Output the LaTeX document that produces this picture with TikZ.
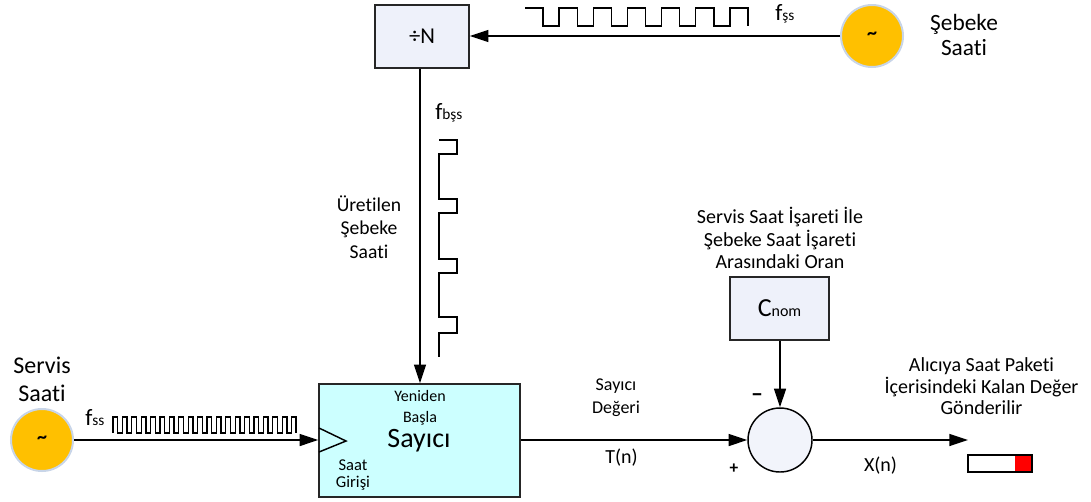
\documentclass[tikz,border=0pt]{standalone}
\usepackage{fontspec}
\setmainfont{Carlito}[Ligatures=NoCommon]
\usetikzlibrary{arrows.meta,calc}
\definecolor{boxfill}{RGB}{238,241,250}
\definecolor{cyanfill}{RGB}{204,255,255}
\definecolor{sumfill}{RGB}{242,244,251}
\definecolor{clkfill}{RGB}{255,192,0}
\definecolor{clkhalo}{RGB}{200,213,232}
\newcommand{\fsz}[2]{\fontsize{#1}{#2}\selectfont}
\newcommand{\lowsub}[1]{{\fontsize{11.5}{12}\selectfont #1}}
\begin{document}
\begin{tikzpicture}[x=0.75pt,y=-0.75pt]
\tikzset{
  conn/.style={line width=1.1pt,-{Triangle[length=14pt,width=9pt]}},
  wave/.style={line width=1pt,line join=miter},
  blockbox/.style={draw=black!85,line width=1.1pt,fill=boxfill,inner sep=0pt},
  clocksrc/.style={circle,fill=clkfill,draw=clkhalo,line width=1.5pt,minimum size=46.5pt,inner sep=0pt,font=\fsz{15}{15}\bfseries},
  lbl/.style={inner sep=0pt,align=center,text=black},
}
\useasboundingbox (0,0) rectangle (1091,501);

% blocks
\node[blockbox,minimum width=70.5pt,minimum height=47.25pt,font=\fsz{17}{20}] (divn) at (422,36.5) {÷N};
\node[blockbox,fill=cyanfill,minimum width=150.75pt,minimum height=84.75pt] (sayici) at (419.5,440.5) {};
\node[blockbox,minimum width=74.25pt,minimum height=47.25pt] (cnom) at (779.5,308.5) {\fsz{19.5}{22}C\lowsub{\fsz{12}{12}nom}};
\node[circle,draw=black,line width=1.1pt,fill=sumfill,minimum size=48pt,inner sep=0pt] (sum) at (780,440) {};
\node[clocksrc] (sebeke) at (872,36) {\raisebox{-0.45ex}{\textasciitilde}};
\node[clocksrc] (servis) at (42,440) {\raisebox{-0.45ex}{\textasciitilde}};
\node[draw=black,line width=1pt,fill=white,minimum width=48pt,minimum height=12.75pt,inner sep=0pt,
  path picture={\fill[red] ([xshift=-12.75pt]path picture bounding box.north east) rectangle (path picture bounding box.south east);}] (packet) at (1000,463.5) {};
\coordinate (outend) at (968,440);

% connectors
\draw[conn] (sebeke.west) -- (sebeke.west -| divn.east);
\draw[conn] (divn.south -| 420,0) -- (420,0 |- sayici.north);
\draw[conn] (servis.east) -- (servis.east -| sayici.west);
\draw[conn] (sayici.east |- sum.west) -- (sum.west);
\draw[conn] (cnom.south -| sum.north) -- (sum.north);
\draw[conn] (sum.east) -- (outend);

% clock input marker
\draw[line width=1.1pt,line join=miter] (319,428) -- (346,441) -- (319,452);

% waves
\draw[wave] (525,8) -- (543,8) -- (543,26)
  foreach \k in {0,...,5} { -- ({559+34.17*\k},26) -- ({559+34.17*\k},8) -- ({543+34.17*(\k+1)},8) -- ({543+34.17*(\k+1)},26) };
\draw[wave] (113,433) -- (113,417)
  foreach \k in {0,...,18} { -- ({117.7+9.4*\k},417) -- ({117.7+9.4*\k},433) -- ({122.4+9.4*\k},433) -- ({122.4+9.4*\k},417) } -- (296,417) -- (296,433);
\draw[wave] (439,140) -- (457,140) -- (457,154) -- (439,154) -- (439,199) -- (457,199) -- (457,213) -- (439,213)
  -- (439,259) -- (457,259) -- (457,273) -- (439,273) -- (439,317) -- (457,317) -- (457,333) -- (439,333) -- (439,357);

% labels
\node[lbl,anchor=base west,font=\fsz{17.5}{20}] (lfss) at (775,20) {f\lowsub{şs}};
\node[lbl,anchor=base west,font=\fsz{17.5}{20}] (lfbss) at (435,119) {f\lowsub{bşs}};
\node[lbl,anchor=base west,font=\fsz{17.5}{20}] (lfs) at (85,425) {f\lowsub{ss}};
\node[lbl,font=\fsz{17.5}{18.75}] (lsebeke) at (964,35) {Şebeke\\Saati};
\node[lbl,font=\fsz{18}{21}] (lservis) at (42,379) {Servis\\Saati};
\node[lbl,font=\fsz{14.7}{17.6}] (luret) at (369,227) {Üretilen\\Şebeke\\Saati};
\node[lbl,font=\fsz{12}{15.75}] (lreset) at (420,407.5) {Yeniden\\Başla};
\node[lbl,font=\fsz{21}{24}] (lsayici) at (419,441) {Sayıcı};
\node[lbl,font=\fsz{12.4}{12.75}] (lclk) at (353,475.5) {Saat\\Girişi};
\node[lbl,font=\fsz{13.5}{17.25}] (lsdeg) at (616,398) {Sayıcı\\Değeri};
\node[lbl,font=\fsz{15}{17}] (ltn) at (621.5,458) {T(n)};
\node[lbl,font=\fsz{18}{18}\bfseries] (lminus) at (757,398) {–};
\node[lbl,font=\fsz{13}{15}\bfseries] (lplus) at (734,469) {+};
\node[lbl,font=\fsz{15}{16.9}] (lratio) at (780,238) {Servis Saat İşareti İle\\Şebeke Saat İşareti\\Arasındaki Oran};
\node[lbl,font=\fsz{15}{17}] (lxn) at (880.5,466) {X(n)};
\node[lbl,font=\fsz{15}{16.1}] (lsend) at (981.5,386.5) {Alıcıya Saat Paketi\\İçerisindeki Kalan Değer\\Gönderilir};
\end{tikzpicture}
\end{document}
